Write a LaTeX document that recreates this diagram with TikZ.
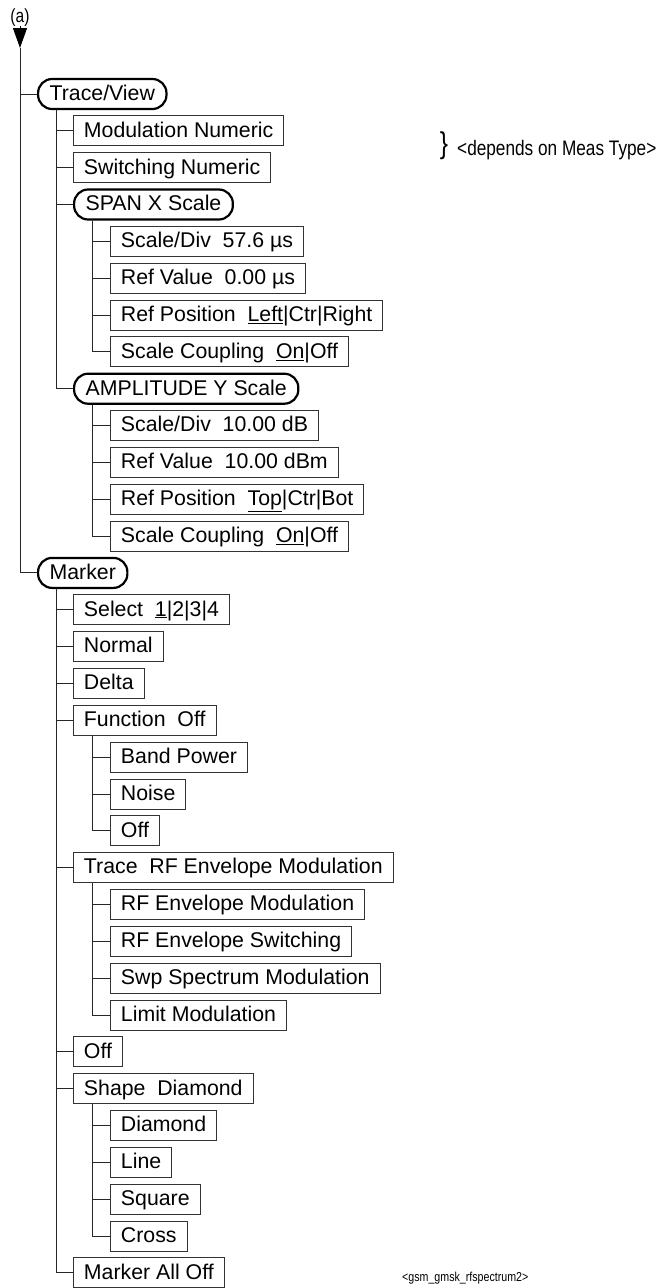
\documentclass[tikz,border=0pt]{standalone}
\usepackage{fontspec}
\setmainfont{Liberation Sans}
\newfontfamily\narrow[FakeStretch=0.82]{Liberation Sans}
\usetikzlibrary{arrows.meta}
\tikzset{
  box/.style={draw=black!80, line width=0.9pt, anchor=west, minimum height=30pt,
    inner xsep=10.5pt, inner ysep=5pt, text height=16.3pt, text depth=3.7pt,
    font=\fontsize{21.3}{24}\selectfont},
  rbox/.style={box, draw=black, line width=2.2pt, rounded corners=14pt, inner xsep=11.5pt},
  conn/.style={draw=black!85, line width=0.9pt},
  downarrow/.style={draw=black, line width=1pt, -{Triangle[length=20pt, width=14pt]}},
}
\begin{document}
\begin{tikzpicture}[x=1pt,y=-1pt]
\useasboundingbox (0,0) rectangle (666,1288);
% header
\node[anchor=base, inner sep=0, font=\narrow\fontsize{19}{20}\selectfont] (a) at (20,22) {(a)};
\coordinate (tip) at (20,48);
\draw[downarrow] (a.south) -- (tip);
% level 1
\node[rbox] (trace) at (37,94.0) {Trace/View};
\node[rbox] (marker) at (37,572.9) {Marker};
% Trace/View children
\node[box] (mod) at (73,130.8) {Modulation Numeric};
\node[box] (swn) at (73,167.7) {Switching Numeric};
\node[rbox] (span) at (73,204.5) {SPAN X Scale};
\node[box] (s1) at (110,241.4) {Scale/Div\ \ 57.6 µs};
\node[box] (s2) at (110,278.2) {Ref Value\ \ 0.00 µs};
\node[box] (s3) at (110,315.0) {Ref Position\ \ \underline{Left}|Ctr|Right};
\node[box] (s4) at (110,351.9) {Scale Coupling\ \ \underline{On}|Off};
\node[rbox] (amp) at (73,388.7) {AMPLITUDE Y Scale};
\node[box] (a1) at (110,425.6) {Scale/Div\ \ 10.00 dB};
\node[box] (a2) at (110,462.4) {Ref Value\ \ 10.00 dBm};
\node[box] (a3) at (110,499.2) {Ref Position\ \ \underline{Top}|Ctr|Bot};
\node[box] (a4) at (110,536.1) {Scale Coupling\ \ \underline{On}|Off};
% Marker children
\node[box] (sel) at (73,609.8) {Select\ \ \underline{1}|2|3|4};
\node[box] (norm) at (73,646.6) {Normal};
\node[box] (delta) at (73,683.4) {Delta};
\node[box] (func) at (73,720.3) {Function\ \ Off};
\node[box] (f1) at (110,757.1) {Band Power};
\node[box] (f2) at (110,794.0) {Noise};
\node[box] (f3) at (110,830.8) {Off};
\node[box] (trc) at (73,867.6) {Trace\ \ RF Envelope Modulation};
\node[box] (t1) at (110,904.5) {RF Envelope Modulation};
\node[box] (t2) at (110,941.3) {RF Envelope Switching};
\node[box] (t3) at (110,978.2) {Swp Spectrum Modulation};
\node[box] (t4) at (110,1015.0) {Limit Modulation};
\node[box] (moff) at (73,1051.8) {Off};
\node[box] (shape) at (73,1088.7) {Shape\ \ Diamond};
\node[box] (h1) at (110,1125.5) {Diamond};
\node[box] (h2) at (110,1162.4) {Line};
\node[box] (h3) at (110,1199.2) {Square};
\node[box] (h4) at (110,1236.0) {Cross};
\node[box] (alloff) at (73,1272.9) {Marker All Off};
% annotations
\node[anchor=center, inner sep=0, font=\narrow\fontsize{30}{32}\selectfont] (brace) at (444,146) {\}};
\node[anchor=base west, inner sep=0, font=\narrow\fontsize{21}{22}\selectfont] (dep) at (457,155) {<depends on Meas Type>};
\node[anchor=base west, inner sep=0, font=\narrow\fontsize{13}{14}\selectfont] (fig) at (402,1281) {<gsm\_gmsk\_rfspectrum2>};
% connectors
\draw[conn] (tip) |- (trace.west);
\draw[conn] (tip) |- (marker.west);
\foreach \p/\c in {trace/mod, trace/swn, trace/span, trace/amp,
  span/s1, span/s2, span/s3, span/s4, amp/a1, amp/a2, amp/a3, amp/a4,
  marker/sel, marker/norm, marker/delta, marker/func, marker/trc, marker/moff, marker/shape, marker/alloff,
  func/f1, func/f2, func/f3, trc/t1, trc/t2, trc/t3, trc/t4, shape/h1, shape/h2, shape/h3, shape/h4}
  \draw[conn] ([xshift=19pt]\p.south west) |- (\c.west);
\end{tikzpicture}
\end{document}
